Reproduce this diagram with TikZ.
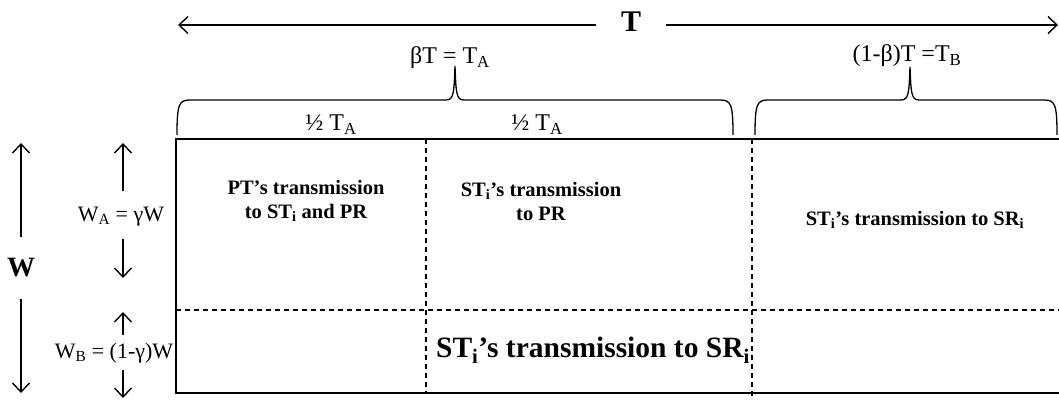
\documentclass[tikz,border=0pt]{standalone}
\usepackage{fontspec}
\setmainfont{Liberation Serif}
\usetikzlibrary{arrows.meta}

\begin{document}
\begin{tikzpicture}[x=1pt,y=-1pt,
  lbl/.style={font=\fontsize{22}{26}\selectfont, inner sep=0pt},
  tlbl/.style={font=\fontsize{24}{28}\selectfont, inner sep=0pt},
  cell/.style={font=\fontsize{20.5}{24}\selectfont\bfseries, align=center, inner sep=0pt},
  bigcell/.style={font=\fontsize{29.5}{32}\selectfont\bfseries, inner sep=0pt},
  bold/.style={font=\fontsize{#1}{#1}\selectfont\bfseries, inner sep=0pt},
  frame/.style={line width=1.8pt},
  grid/.style={line width=1.3pt, dash pattern=on 5pt off 4pt},
  brace/.style={line width=1.3pt},
  dim/.style={line width=1.4pt, -{Straight Barb[length=9pt,width=17pt,line width=1.4pt]}}
]
\useasboundingbox (0,0) rectangle (1059,401);

% ---- time/frequency frame ----
\draw[frame] (1059,139) -- (176,139) -- (176,393) -- (1059,393);
\draw[grid] (176,310) -- (1059,310);
\draw[grid] (426,139) -- (426,393);
\draw[grid] (752,139) -- (752,396);

% ---- total duration T ----
\node[bold=30, inner xsep=25pt] (T) at (631,22) {T};
\coordinate (Tl) at (178,25);
\coordinate (Tr) at (1058,25);
\draw[dim] (T.west |- Tl) -- (Tl);
\draw[dim] (T.east |- Tr) -- (Tr);

% ---- braces over the two phases ----
\draw[brace] (177,135) .. controls (177,104) and (179,100) .. (190,100)
  -- (446,100) .. controls (454,100) and (454,92) .. (455,66)
  .. controls (456,92) and (456,100) .. (464,100)
  -- (720,100) .. controls (731,100) and (733,104) .. (733,135);
\draw[brace] (755,135) .. controls (755,104) and (757,100) .. (768,100)
  -- (901,100) .. controls (909,100) and (909,92) .. (910,67)
  .. controls (911,92) and (911,100) .. (919,100)
  -- (1044,100) .. controls (1055,100) and (1057,104) .. (1057,135);

\node[tlbl, anchor=base] (TA) at (450,64) {βT = T\textsubscript{A}};
\node[tlbl, anchor=base] (TB) at (907,62) {(1-β)T =T\textsubscript{B}};
\node[tlbl, anchor=base] (half1) at (331,131) {½ T\textsubscript{A}};
\node[tlbl, anchor=base] (half2) at (537,131) {½ T\textsubscript{A}};

% ---- bandwidth W ----
\node[bold=28, inner ysep=21pt] (W) at (21,268) {W};
\coordinate (Wt) at (21,143);
\coordinate (Wb) at (21,393);
\draw[dim] (W.north) -- (Wt);
\draw[dim] (W.south) -- (Wb);

\node[lbl] (WA) at (121,217) {W\textsubscript{A} = γW};
\coordinate (WAt) at (123,143);
\coordinate (WAb) at (123,278);
\draw[dim] ([yshift=16pt]WA.north -| WAt) -- (WAt);
\draw[dim] ([yshift=-12pt]WA.south -| WAb) -- (WAb);

\node[lbl] (WB) at (114,353) {W\textsubscript{B} = (1-γ)W};
\coordinate (WBt) at (123,312);
\coordinate (WBb) at (123,398);
\draw[dim] ([yshift=8pt]WB.north -| WBt) -- (WBt);
\draw[dim] ([yshift=-7pt]WB.south -| WBb) -- (WBb);

% ---- cell contents ----
\node[cell] (c1) at (306,201) {PT’s transmission\\to ST\textsubscript{i} and PR};
\node[cell] (c2) at (541,201) {ST\textsubscript{i}’s transmission\\to PR};
\node[cell] (c3) at (915,220) {ST\textsubscript{i}’s transmission to SR\textsubscript{i}};
\node[bigcell] (c4) at (593,350) {ST\textsubscript{i}’s transmission to SR\textsubscript{i}};
\end{tikzpicture}
\end{document}
